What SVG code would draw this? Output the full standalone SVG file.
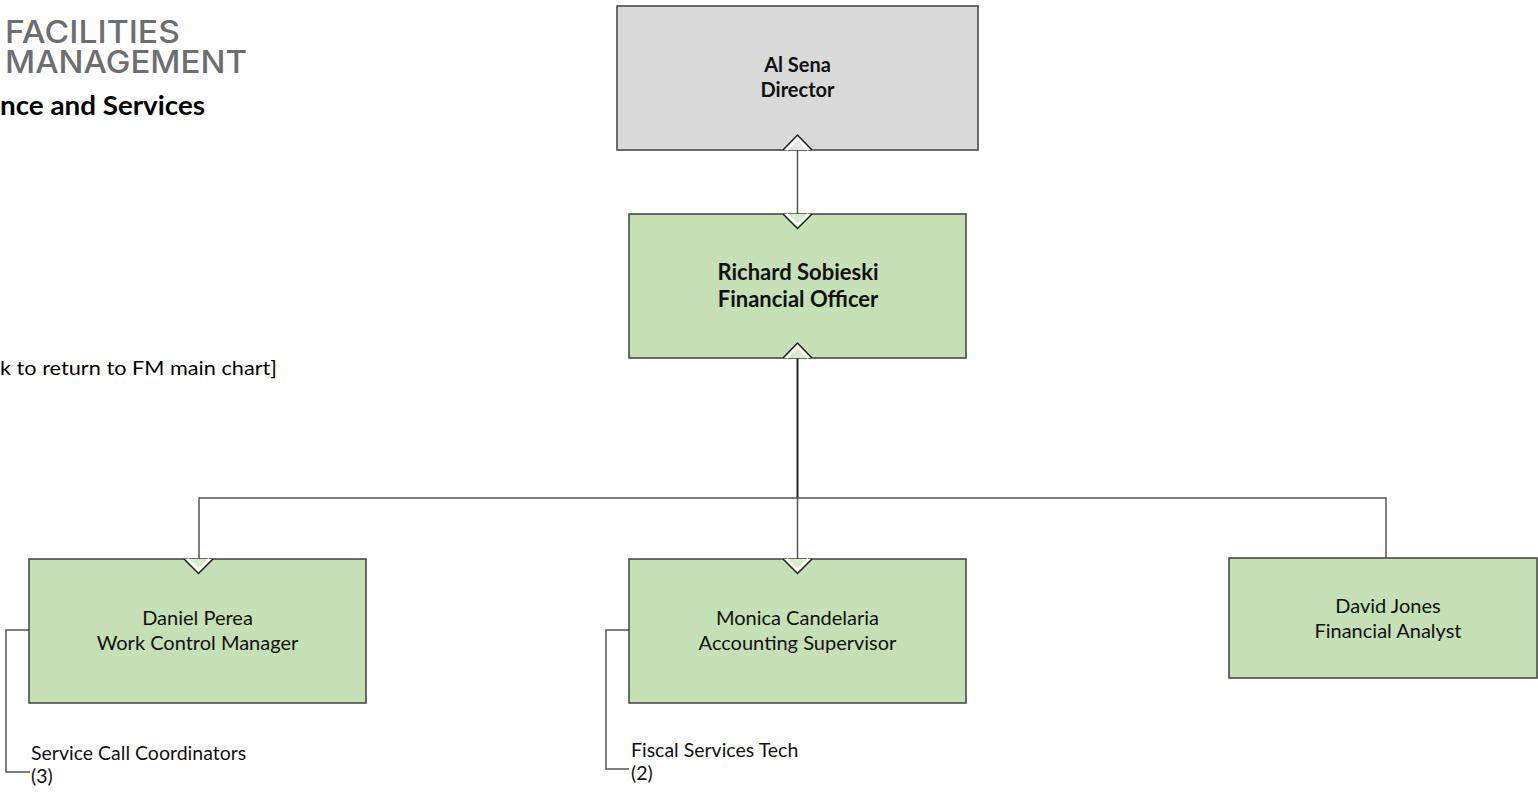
<svg xmlns="http://www.w3.org/2000/svg" width="1538" height="793" viewBox="0 0 1538 793">
<style>
.box{stroke:#3f3f3f;stroke-width:1.5}
.g{fill:#c5e0b4}
.gr{fill:#d9d9d9}
.t{font-family:Lato,"Liberation Sans",sans-serif;font-size:20px;fill:#111;text-anchor:middle}
.b{font-weight:bold}
.big{font-size:22px}
.s{font-family:Lato,"Liberation Sans",sans-serif;font-size:19.5px;fill:#111}
.logo{font-family:Inter,"Liberation Sans",sans-serif;font-size:31px;font-weight:500;fill:#6d6e70}
.ln{fill:none;stroke:#555;stroke-width:1.5}
.dk{fill:none;stroke:#222;stroke-width:2}
.chev{fill:none;stroke:#222;stroke-width:1.5}
.halo{fill:none;stroke:#fff;stroke-width:2.5}
</style>
<rect width="1538" height="793" fill="#fff"/>
<g id="header">
<text class="logo"><tspan x="5" y="43" textLength="175" lengthAdjust="spacingAndGlyphs">FACILITIES</tspan><tspan x="5" y="73" textLength="242" lengthAdjust="spacingAndGlyphs">MANAGEMENT</tspan></text>
<text x="0" y="115" font-family="Lato,'Liberation Sans',sans-serif" font-size="27" font-weight="bold" fill="#000" textLength="205" lengthAdjust="spacingAndGlyphs">nce and Services</text>
<text x="0" y="375" font-family="Lato,'Liberation Sans',sans-serif" font-size="20" fill="#000" textLength="277" lengthAdjust="spacingAndGlyphs">k to return to FM main chart]</text>
</g>
<g id="connectors">
<line class="ln" x1="797.5" y1="150" x2="797.5" y2="214"/>
<line class="dk" x1="797.5" y1="358" x2="797.5" y2="498"/>
<polyline class="ln" points="199,559 199,498 1386,498 1386,558"/>
<line class="ln" x1="797.5" y1="498" x2="797.5" y2="559"/>
<polyline class="ln" points="29,630 6,630 6,772 30,772"/>
<polyline class="ln" points="629,630 606,630 606,769 629,769"/>
</g>
<g id="al-sena">
<rect class="box gr" x="617" y="6" width="361" height="144"/>
<polygon points="783,150 797.5,135 812,150" fill="#e6e6e6"/>
<polyline class="halo" points="786.5,150 797.5,138.5 808.5,150"/>
<polyline class="chev" points="783,150 797.5,135 812,150"/>
<text class="t b" x="797.5" y="72">Al Sena</text>
<text class="t b" x="797.5" y="97">Director</text>
</g>
<g id="richard-sobieski">
<rect class="box g" x="629" y="214" width="337" height="144"/>
<polygon points="783,214 812,214 797.5,228.5" fill="#d8ecc9"/>
<polyline class="halo" points="786.5,214 797.5,225 808.5,214"/>
<polyline class="chev" points="783,214 797.5,228.5 812,214"/>
<polygon points="783,358 797.5,343 812,358" fill="#d8ecc9"/>
<polyline class="halo" points="786.5,358 797.5,346.5 808.5,358"/>
<polyline class="chev" points="783,358 797.5,343 812,358"/>
<text class="t b big" x="798" y="280">Richard Sobieski</text>
<text class="t b big" x="798" y="307">Financial Officer</text>
</g>
<g id="daniel-perea">
<rect class="box g" x="29" y="559" width="337" height="144"/>
<polygon points="184,559 213,559 198.5,573.5" fill="#d8ecc9"/>
<polyline class="halo" points="187.5,559 198.5,570 209.5,559"/>
<polyline class="chev" points="184,559 198.5,573.5 213,559"/>
<text class="t" x="197.5" y="625">Daniel Perea</text>
<text class="t" x="197.5" y="650">Work Control Manager</text>
</g>
<g id="service-call-coordinators">
<text class="s" x="31" y="760">Service Call Coordinators</text>
<text class="s" x="31" y="783">(3)</text>
</g>
<g id="monica-candelaria">
<rect class="box g" x="629" y="559" width="337" height="144"/>
<polygon points="783,559 812,559 797.5,573.5" fill="#d8ecc9"/>
<polyline class="halo" points="786.5,559 797.5,570 808.5,559"/>
<polyline class="chev" points="783,559 797.5,573.5 812,559"/>
<text class="t" x="797.5" y="625">Monica Candelaria</text>
<text class="t" x="797.5" y="650">Accounting Supervisor</text>
</g>
<g id="fiscal-services-tech">
<text class="s" x="631" y="757">Fiscal Services Tech</text>
<text class="s" x="631" y="780">(2)</text>
</g>
<g id="david-jones">
<rect class="box g" x="1229" y="558" width="308" height="120"/>
<text class="t" x="1388" y="613">David Jones</text>
<text class="t" x="1388" y="638">Financial Analyst</text>
</g>
</svg>
